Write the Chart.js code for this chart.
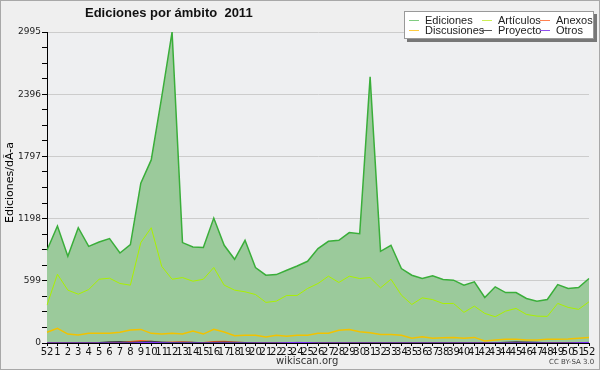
<!DOCTYPE html>
<html>
<head>
<meta charset="utf-8">
<script src="https://cdn.jsdelivr.net/npm/chart.js@4.4.0/dist/chart.umd.min.js"></script>
<style>
  html, body { margin: 0; padding: 0; background: #efefef; }
  #wrap { position: relative; width: 600px; height: 370px; box-sizing: border-box; border: 1px solid #a8a8a8; overflow: hidden; font-family: "DejaVu Sans", sans-serif; }
  #chart { position: absolute; left: -1px; top: -1px; }
  .txt { position: absolute; white-space: nowrap; color: #111; font-weight: normal; }
  #title { left: 84px; top: 4px; font-family: "Liberation Sans", sans-serif; font-size: 13px; font-weight: bold; }
  #ytitle { left: 2px; top: 222px; font-size: 11px; line-height: 13px; color: #000; transform-origin: 0 0; transform: rotate(-90deg); }
  #site { left: 275px; top: 354px; font-size: 10px; color: #333; }
  #lic { left: 548px; top: 357px; font-size: 7px; color: #444; }
  #legend { position: absolute; left: 403px; top: 10px; width: 188px; height: 26px; background: #fff; border: 1px solid #999; box-shadow: 3px 3px 0 #777; }
  .it { position: absolute; font-family: "Liberation Sans", sans-serif; font-size: 11px; color: #222; line-height: 10px; }
  .it i { position: absolute; left: -16px; top: 5px; width: 10px; height: 0; border-top: 1px solid; }
</style>
</head>
<body>
<div id="wrap">
  <canvas id="chart" width="600" height="370"></canvas>
  <div class="txt" id="title">Ediciones por ámbito&nbsp;&nbsp;2011</div>
  <div class="txt" id="ytitle">Ediciones/dÃ-a</div>
  <div class="txt" id="site">wikiscan.org</div>
  <div class="txt" id="lic">CC BY-SA 3.0</div>
  <div id="legend"></div>
</div>
<script>
const weeks = ['52','1','2','3','4','5','6','7','8','9','10','11','12','13','14','15','16','17','18','19','20','21','22','23','24','25','26','27','28','29','30','31','32','33','34','35','36','37','38','39','40','41','42','43','44','45','46','47','48','49','50','51','52'];

const ediciones = [893,1126,835,1110,931,973,1005,867,947,1539,1763,2365,2995,967,925,919,1203,941,806,989,727,653,659,701,742,787,909,979,989,1063,1053,2563,883,941,717,653,621,648,611,605,557,589,438,541,486,486,429,403,419,563,525,535,621];
const articulos = [365,662,509,470,515,614,624,573,557,967,1110,739,614,630,595,614,727,557,509,493,467,391,403,458,458,525,573,643,583,643,621,630,531,614,461,371,435,418,380,381,295,355,285,253,307,333,275,259,256,381,343,324,397];
const discusiones = [103,141,86,77,93,93,93,103,125,131,93,86,93,86,115,86,131,106,70,74,74,58,74,64,74,74,93,93,122,131,109,99,83,83,74,45,61,45,51,54,45,54,19,29,35,35,29,29,35,35,38,45,54];
const anexos = [0,0,0,0,0,0,2,4,12,22,14,3,8,10,4,2,12,14,8,2,0,0,0,0,0,0,0,0,0,0,0,0,0,0,0,0,0,0,0,0,0,0,0,0,0,0,0,0,0,0,0,0,0];
const proyecto = [0,0,0,0,0,2,10,12,4,10,14,8,2,6,4,0,4,8,6,2,0,0,0,0,0,0,0,0,0,0,0,0,0,0,0,0,0,0,0,0,0,0,0,0,6,10,8,4,0,0,0,0,0];
const otros = [0,0,0,0,0,0,0,0,0,4,6,2,0,0,0,0,0,0,0,0,0,0,0,3,6,4,0,0,0,0,0,0,0,0,0,0,0,0,0,0,0,0,0,0,0,0,0,0,0,0,0,3,6];

const yTickLabels = [0, 599, 1198, 1797, 2396, 2995];
const minorPerMajor = 4;

const legendItems = [
    { name: 'Ediciones', color: '#80cc80', x: 20, y: 3 },
    { name: 'Artículos', color: '#ccee55', x: 93, y: 3 },
    { name: 'Anexos', color: '#ff8050', x: 151, y: 3 },
    { name: 'Discusiones', color: '#ffcc40', x: 20, y: 13 },
    { name: 'Proyecto', color: '#555555', x: 93, y: 13 },
    { name: 'Otros', color: '#9050ee', x: 151, y: 13 }
];

const legend = document.getElementById('legend');
legendItems.forEach(item => {
    let el = document.createElement('div');
    el.className = 'it';
    el.style.left = item.x + 'px';
    el.style.top = item.y + 'px';
    el.innerHTML = '<i style="border-color:' + item.color + '"></i>' + item.name;
    legend.appendChild(el);
});

const plotBg = {
    id: 'plotBg',
    beforeDraw: (chart) => {
        const { ctx, chartArea } = chart;
        ctx.save();
        ctx.fillStyle = '#eeeff1';
        ctx.fillRect(chartArea.left, chartArea.top, chartArea.right - chartArea.left + 3, chartArea.bottom - chartArea.top);
        ctx.restore();
    }
};

const line = (label, data, color, width, order, extra) => Object.assign({
    label: label,
    data: data,
    borderColor: color,
    borderWidth: width,
    pointRadius: 0,
    tension: 0,
    fill: false,
    order: order
}, extra || {});

const ymax = yTickLabels[yTickLabels.length - 1];
const step = yTickLabels[1] / minorPerMajor;

new Chart(document.getElementById('chart'), {
    type: 'line',
    data: {
        labels: weeks,
        datasets: [
            line('Ediciones', ediciones, '#3aae3a', 1.5, 10, { fill: 'origin', backgroundColor: '#9bca9b' }),
            line('Artículos', articulos, '#aaf000', 1, 5),
            line('Discusiones', discusiones, '#f2c200', 1.5, 4),
            line('Anexos', anexos, '#ff5a1a', 1.5, 3),
            line('Proyecto', proyecto, '#444444', 1.5, 2),
            line('Otros', otros, '#7a2cff', 1, 1)
        ]
    },
    options: {
        responsive: false,
        animation: false,
        events: [],
        layout: { padding: { left: 0, right: 11, top: 32, bottom: 0 } },
        plugins: { legend: { display: false }, title: { display: false }, tooltip: { enabled: false } },
        scales: {
            x: {
                offset: false,
                border: { color: '#000', width: 1, z: 1 },
                grid: { drawOnChartArea: false, tickLength: 3, tickColor: '#000' },
                ticks: {
                    autoSkip: false, maxRotation: 0, minRotation: 0, padding: 0,
                    color: '#111', font: { family: 'DejaVu Sans', size: 10 }
                },
                afterFit: (scale) => { scale.height = 27; }
            },
            y: {
                min: 0,
                max: ymax,
                border: { color: '#000', width: 1 },
                grid: {
                    tickLength: 5,
                    tickColor: '#000',
                    color: (c) => yTickLabels.includes(c.tick && c.tick.value) ? '#cccccc' : 'rgba(0,0,0,0)'
                },
                ticks: {
                    padding: 1,
                    color: '#222',
                    font: { family: 'DejaVu Sans', size: 9 },
                    callback: (v) => yTickLabels.includes(v) ? String(v) : ''
                },
                afterBuildTicks: (scale) => {
                    let ticks = [];
                    for (let i = 0; i <= (yTickLabels.length - 1) * minorPerMajor; i++) {
                        let v = i % minorPerMajor === 0 ? yTickLabels[i / minorPerMajor] : i * step;
                        ticks.push({ value: v });
                    }
                    scale.ticks = ticks;
                },
                afterFit: (scale) => { scale.width = 47; }
            }
        }
    },
    plugins: [plotBg]
});
</script>
</body>
</html>
